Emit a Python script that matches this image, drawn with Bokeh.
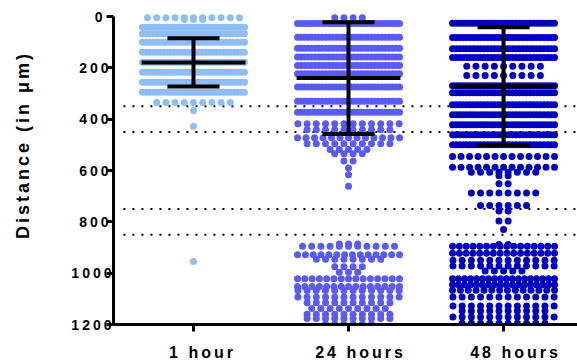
from bokeh.plotting import figure
from bokeh.models import Range1d, FixedTicker, InlineStyleSheet
from bokeh.embed import file_html
from bokeh.resources import INLINE

# ---------------- data ----------------
categories = ["1 hour", "24 hours", "48 hours"]
colors = ["#8EBDF7", "#5A5AF5", "#0000C0"]

# each group: distance levels (µm) and how many cells sit at that level
levels_1h = [5, 12, 42, 67, 100, 139, 178, 217, 256, 295, 335, 366, 428, 955]
counts_1h = [11, 3, 30, 30, 28, 30, 30, 30, 30, 30, 9, 1, 1, 1]

levels_24h = [5, 27, 81, 124, 158, 191, 223, 275, 330, 373,
              418, 441, 472, 496, 518, 535, 563, 590, 617, 661,
              886, 895, 928, 946, 975, 996, 1022, 1052, 1068, 1093,
              1115, 1138, 1160, 1177, 1198]
counts_24h = [4, 30, 30, 30, 30, 30, 30, 30, 30, 30,
              12, 10, 13, 10, 5, 4, 2, 1, 1, 1,
              3, 11, 14, 8, 4, 3, 15, 15, 12, 12,
              10, 9, 10, 10, 6]

levels_48h = [26, 82, 126, 160, 194, 230, 270, 297, 344, 383,
              422, 461, 500, 545, 587, 607, 620, 652, 688, 736,
              758, 797, 830, 888, 895, 922, 950, 972, 992, 1022,
              1045, 1067, 1093, 1128, 1147, 1171, 1195]
counts_48h = [30, 30, 30, 30, 9, 9, 30, 30, 30, 30,
              30, 30, 30, 13, 13, 8, 2, 2, 8, 6,
              2, 2, 1, 2, 16, 16, 12, 12, 5, 18,
              18, 14, 12, 12, 10, 12, 10]

group_levels = [levels_1h, levels_24h, levels_48h]
group_counts = [counts_1h, counts_24h, counts_48h]

means = [179, 240, 272]
sds = [94, 218, 230]

thresholds = [350, 450, 750, 850]
y_ticks = [0, 200, 400, 600, 800, 1000, 1200]

# ---------------- figure ----------------
W, H = 577, 364
BL, BR, BT, BB = 113, 0, 13, 40
X0, X1 = -0.516, 2.477
p = figure(width=W, height=H, x_range=Range1d(X0, X1), y_range=Range1d(1200, -11.7),
           output_backend="svg", toolbar_location=None,
           min_border_left=BL, min_border_right=BR, min_border_top=BT, min_border_bottom=BB)
p.outline_line_color = None
p.xgrid.visible = False
p.ygrid.visible = False
p.background_fill_color = "white"
p.border_fill_color = "white"
p.stylesheets = [InlineStyleSheet(css=":host { letter-spacing: 3px; }")]

px_per_unit = (W - BL - BR) / (X1 - X0)
NAT_PX = 9.2     # spacing of dots in a sparse row
MAX_W_PX = 102   # full width of a swarm

# threshold dotted lines (behind the dots)
for t in thresholds:
    p.segment(x0=-0.452, x1=X1 + 0.05, y0=t, y1=t, line_color="black",
              line_width=2, line_dash="2 7")

# swarm: points of a level laid out in a centered row
for gi, (lv, ct) in enumerate(zip(group_levels, group_counts)):
    xs, ys = [], []
    for v, n in zip(lv, ct):
        step = NAT_PX if n == 1 else min(NAT_PX, MAX_W_PX / (n - 1))
        for i in range(n):
            xs.append(gi + (i - (n - 1) / 2) * step / px_per_unit)
            ys.append(v)
    p.scatter(xs, ys, size=7, fill_color=colors[gi], line_color=None)

# mean +- SD
mean_half = 0.335
cap_half = 0.168
idx = list(range(len(categories)))
p.segment(x0=[i - mean_half for i in idx], x1=[i + mean_half for i in idx],
          y0=means, y1=means, line_color="black", line_width=4)
lo = [m - s for m, s in zip(means, sds)]
hi = [m + s for m, s in zip(means, sds)]
p.segment(x0=idx, x1=idx, y0=lo, y1=hi, line_color="black", line_width=4)
p.segment(x0=[i - cap_half for i in idx], x1=[i + cap_half for i in idx],
          y0=lo, y1=lo, line_color="black", line_width=4)
p.segment(x0=[i - cap_half for i in idx], x1=[i + cap_half for i in idx],
          y0=hi, y1=hi, line_color="black", line_width=4)

# ---------------- axes ----------------
FONT = "Liberation Sans"
ya = p.yaxis[0]
ya.ticker = FixedTicker(ticks=y_ticks)
ya.bounds = (0, 1200)
ya.axis_label = "Distance (in μm)"
ya.axis_label_text_font = FONT
ya.axis_label_text_font_style = "bold"
ya.axis_label_text_font_size = "18px"
ya.axis_label_text_color = "black"
ya.axis_label_standoff = 35
ya.major_label_text_font = FONT
ya.major_label_text_font_style = "bold"
ya.major_label_text_font_size = "14px"
ya.major_label_text_color = "black"
ya.major_label_standoff = 4
ya.axis_line_width = 3
ya.axis_line_color = "black"
ya.major_tick_line_width = 3
ya.major_tick_line_color = "black"
ya.major_tick_in = 0
ya.major_tick_out = 7
ya.minor_tick_line_color = None

xa = p.xaxis[0]
xa.ticker = FixedTicker(ticks=idx)
xa.major_label_overrides = {i: c for i, c in zip(idx, categories)}
xa.major_label_text_font = FONT
xa.major_label_text_font_style = "bold"
xa.major_label_text_font_size = "16px"
xa.major_label_text_color = "black"
xa.major_label_standoff = 12
xa.axis_line_width = 3
xa.axis_line_color = "black"
xa.major_tick_line_width = 3
xa.major_tick_line_color = "black"
xa.major_tick_in = 0
xa.major_tick_out = 7
xa.minor_tick_line_color = None

open("out.html", "w").write(file_html(p, INLINE))
